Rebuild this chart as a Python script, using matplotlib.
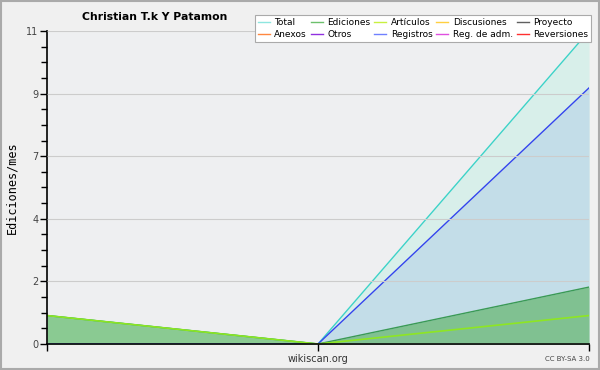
import numpy as np
import matplotlib
matplotlib.use("Agg")
import matplotlib.pyplot as plt
from matplotlib.ticker import AutoMinorLocator
from matplotlib.lines import Line2D

# data
months = [0, 1, 2]
total = [1, 0, 11]
registros = [0, 0, 9]
ediciones = [1, 0, 2]
articulos = [1, 0, 1]

ytick_vals = np.linspace(0, 11, 6)
ytick_labels = ['0', '2', '4', '7', '9', '11']

legend_names = ['Total', 'Ediciones', 'Artículos', 'Discusiones', 'Proyecto',
                'Anexos', 'Otros', 'Registros', 'Reg. de adm.', 'Reversiones']
legend_colors = ['#8ee6e0', '#6cc06c', '#c8f040', '#ffd040', '#606060',
                 '#ff8840', '#9030e0', '#7080ff', '#e050e0', '#ff3030']

fig = plt.figure(figsize=(6, 3.7), dpi=100, facecolor='#f0f0f0')
ax = fig.add_axes([0.0783, 0.0703, 0.9034, 0.846])
ax.set_facecolor('#eeeff1')

# fills
ax.fill_between(months, 0, total, color='#d8efea', lw=0)
ax.fill_between(months, 0, registros, color='#c3dde8', lw=0)
ax.fill_between(months, 0, ediciones, color='#3ea73b', alpha=0.5, lw=0)

# lines
ax.plot(months, total, color='#3cd3c8', lw=1)
ax.plot(months, registros, color='#3344ee', lw=1)
ax.plot(months, ediciones, color='#3a9a55', lw=1)
ax.plot(months, articulos, color='#8ee622', lw=1.2)

ax.set_xlim(0, 2)
ax.set_ylim(0, 11)
ax.set_xticks(months)
ax.set_xticklabels([])
ax.set_yticks(ytick_vals)
ax.set_yticklabels(ytick_labels, fontsize=7, color='#444444')
ax.yaxis.set_minor_locator(AutoMinorLocator(4))
ax.tick_params(axis='both', which='major', length=5, width=1, direction='out', pad=1)
ax.tick_params(axis='y', which='minor', length=4, width=1)
ax.grid(axis='y', color='#cccccc', lw=0.8)
ax.set_axisbelow(False)
for s in ['top', 'right']:
    ax.spines[s].set_visible(False)
ax.spines['left'].set_linewidth(1.2)
ax.spines['bottom'].set_linewidth(1.2)

ax.set_ylabel('Ediciones/mes', fontsize=8.5, family='DejaVu Sans Mono', labelpad=6)
fig.text(0.53, 0.03, 'wikiscan.org', fontsize=7, color='#333333', ha='center', va='center')
fig.text(0.945, 0.03, 'CC BY-SA 3.0', fontsize=5, color='#444444', ha='center', va='center')
fig.text(0.258, 0.953, 'Christian T.k Y Patamon', fontsize=7.8, fontweight='bold', ha='center', va='center')

# legend: row-major order for 5 columns
order = [0, 5, 1, 6, 2, 7, 3, 8, 4, 9]
handles = [Line2D([], [], color=legend_colors[i], lw=1) for i in order]
labels = [legend_names[i] for i in order]
leg = fig.legend(handles, labels, ncol=5, loc='upper right', bbox_to_anchor=(0.993, 0.972),
                 fontsize=6.5, frameon=True, fancybox=False, handlelength=1.3,
                 handletextpad=0.5, columnspacing=0.45, labelspacing=0.3,
                 borderpad=0.35, framealpha=1)
leg.get_frame().set_edgecolor('#aaaaaa')
leg.get_frame().set_linewidth(0.8)

# outer border
fig.patches.append(plt.Rectangle((0.002, 0.003), 0.996, 0.994, transform=fig.transFigure,
                                 fill=False, edgecolor='#aaaaaa', lw=1.5))

fig.savefig('out.png', dpi=100, facecolor=fig.get_facecolor())
